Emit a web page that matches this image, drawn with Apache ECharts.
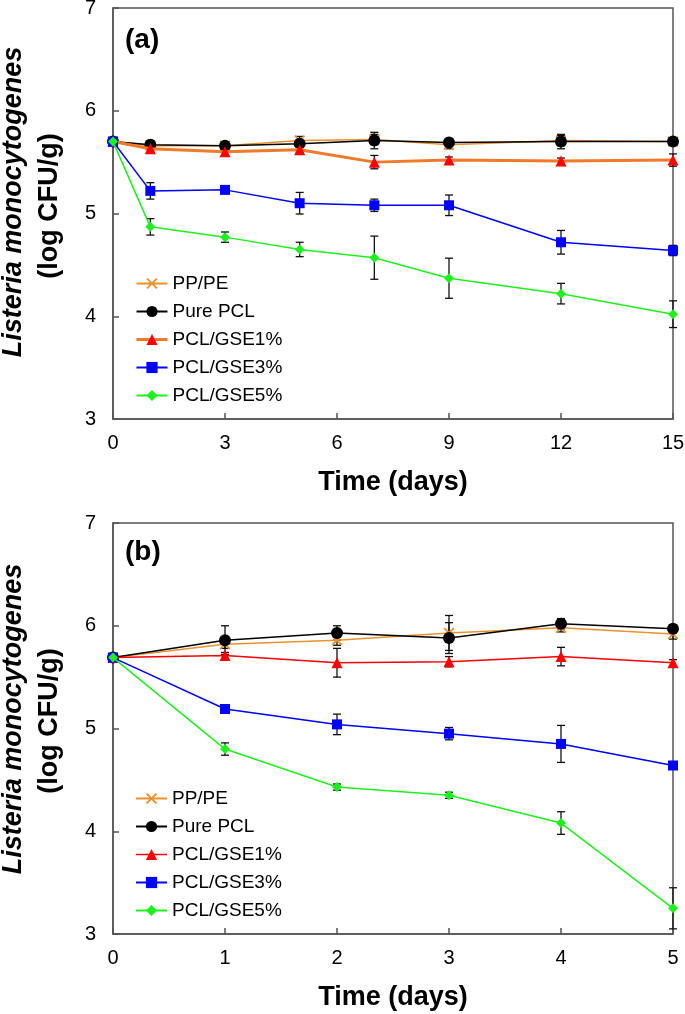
<!DOCTYPE html>
<html>
<head>
<meta charset="utf-8">
<script src="https://cdn.jsdelivr.net/npm/echarts@6/dist/echarts.min.js"></script>
<style>html,body{margin:0;padding:0;background:#fff;}#c{width:685px;height:1014px;}</style>
</head>
<body>
<div id="c"></div>
<script>
// ---------- data ----------
const seriesNames = ['PP/PE', 'Pure PCL', 'PCL/GSE1%', 'PCL/GSE3%', 'PCL/GSE5%'];

const daysA = [0, 1, 3, 5, 7, 9, 12, 15];
const ppA    = [5.70, 5.66, 5.66, 5.71, 5.72, 5.67, 5.71, 5.70];
const pclA   = [5.70, 5.67, 5.66, 5.68, 5.71, 5.69, 5.70, 5.70];
const gse1A  = [5.70, 5.63, 5.60, 5.62, 5.50, 5.52, 5.51, 5.52];
const gse3A  = [5.70, 5.22, 5.23, 5.10, 5.08, 5.08, 4.72, 4.64];
const gse5A  = [5.70, 4.87, 4.77, 4.65, 4.57, 4.37, 4.22, 4.02];
const ppAErr   = [0, 0.03, 0.03, 0.04, 0.05, 0.04, 0.05, 0.03];
const pclAErr  = [0, 0.04, 0.03, 0.03, 0.08, 0.04, 0.07, 0.03];
const gse1AErr = [0, 0.03, 0.03, 0.03, 0.065, 0.03, 0.03, 0.06];
const gse3AErr = [0, 0.08, 0.02, 0.105, 0.06, 0.10, 0.115, 0.05];
const gse5AErr = [0, 0.08, 0.05, 0.07, 0.21, 0.195, 0.10, 0.13];

const daysB = [0, 1, 2, 3, 4, 5];
const ppB    = [5.69, 5.82, 5.86, 5.93, 5.98, 5.92];
const pclB   = [5.69, 5.86, 5.93, 5.88, 6.02, 5.97];
const gse1B  = [5.69, 5.71, 5.64, 5.65, 5.70, 5.64];
const gse3B  = [5.69, 5.19, 5.04, 4.95, 4.85, 4.64];
const gse5B  = [5.69, 4.80, 4.43, 4.35, 4.08, 3.25];
const ppBErr   = [0, 0.04, 0.05, 0.17, 0.04, 0.05];
const pclBErr  = [0, 0.14, 0.07, 0.15, 0.05, 0.04];
const gse1BErr = [0, 0.03, 0.14, 0.05, 0.09, 0.03];
const gse3BErr = [0, 0.03, 0.10, 0.06, 0.18, 0.03];
const gse5BErr = [0, 0.06, 0.03, 0.03, 0.11, 0.20];

const yTicks = [3, 4, 5, 6, 7];
const xTicksA = [0, 3, 6, 9, 12, 15];
const xTicksB = [0, 1, 2, 3, 4, 5];

// ---------- styles ----------
const FONT = '"Liberation Sans", Arial, sans-serif';
const C_ORANGE = '#E8912F';
const C_ORANGE2 = '#F07A2A';
const C_RED = '#FF0000';
const C_BLUE = '#0000FF';
const C_GREEN = '#1EF01E';
const CROSS = 'path://M0,1.2L1.2,0L5,3.8L8.8,0L10,1.2L6.2,5L10,8.8L8.8,10L5,6.2L1.2,10L0,8.8L3.8,5Z';

function pairs(xs, ys) { return xs.map((x, i) => [x, ys[i]]); }
function errPairs(xs, ys, es) { return xs.map((x, i) => [x, ys[i], es[i]]); }

function renderErr(params, api) {
  const x = api.value(0), y = api.value(1), e = api.value(2);
  if (!e) return null;
  const t = api.coord([x, y + e]), b = api.coord([x, y - e]);
  const w = 4;
  const st = { stroke: '#111', lineWidth: 1.3 };
  return { type: 'group', children: [
    { type: 'line', shape: { x1: t[0], y1: t[1], x2: b[0], y2: b[1] }, style: st },
    { type: 'line', shape: { x1: t[0] - w, y1: t[1], x2: t[0] + w, y2: t[1] }, style: st },
    { type: 'line', shape: { x1: b[0] - w, y1: b[1], x2: b[0] + w, y2: b[1] }, style: st }
  ]};
}

function lineSeries(name, idx, xs, ys, color, symbol, size, lineColor, lw, z) {
  return {
    type: 'line', name: name, xAxisIndex: idx, yAxisIndex: idx,
    data: pairs(xs, ys), symbol: symbol, symbolSize: size,
    showAllSymbol: true, animation: false, z: z,
    lineStyle: { color: lineColor || color, width: lw || 1.5 },
    itemStyle: { color: color, borderWidth: 0 },
    emphasis: { disabled: true }
  };
}

function errSeries(idx, xs, list) {
  let data = [];
  list.forEach(([ys, es]) => { data = data.concat(errPairs(xs, ys, es)); });
  return {
    type: 'custom', xAxisIndex: idx, yAxisIndex: idx, renderItem: renderErr,
    data: data, z: 1, animation: false, silent: true,
    encode: { x: 0, y: 1 }
  };
}

const grids = [
  { left: 113, right: 12, top: 8, height: 411 },
  { left: 113, right: 12, top: 523, height: 411 }
];

function xAxisCfg(idx, max, interval) {
  return {
    type: 'value', gridIndex: idx, min: 0, max: max, interval: interval,
    name: 'Time (days)', nameLocation: 'middle', nameGap: 50,
    nameTextStyle: { fontFamily: FONT, fontSize: 27, fontWeight: 'bold', color: '#000' },
    axisLine: { show: true, lineStyle: { color: '#555', width: 1.5 } },
    axisTick: { show: true, inside: true, length: 6, lineStyle: { color: '#555', width: 1.5 } },
    axisLabel: { fontFamily: FONT, fontSize: 20, color: '#000', margin: 14, showMinLabel: true, showMaxLabel: true, hideOverlap: false },
    splitLine: { show: false }
  };
}
function yAxisCfg(idx) {
  return {
    type: 'value', gridIndex: idx, min: 3, max: 7, interval: 1,
    axisLine: { show: true, lineStyle: { color: '#555', width: 1.5 } },
    axisTick: { show: true, inside: true, length: 6, lineStyle: { color: '#555', width: 1.5 } },
    axisLabel: { fontFamily: FONT, fontSize: 20, color: '#000', margin: 17 },
    splitLine: { show: false }
  };
}

function legendCfg(top, gse1Line) {
  return {
    orient: 'vertical', left: 130, top: top, itemWidth: 31, itemHeight: 14, itemGap: 9,
    textStyle: { fontFamily: FONT, fontSize: 19, color: '#000' },
    selectedMode: false,
    data: [
      { name: 'PP/PE' },
      { name: 'Pure PCL' },
      { name: 'PCL/GSE1%', lineStyle: { color: gse1Line, width: gse1Line === C_RED ? 1.5 : 3 }, itemStyle: { color: C_RED } },
      { name: 'PCL/GSE3%' },
      { name: 'PCL/GSE5%' }
    ]
  };
}

const series = [
  errSeries(0, daysA, [[ppA, ppAErr], [pclA, pclAErr], [gse1A, gse1AErr], [gse3A, gse3AErr], [gse5A, gse5AErr]]),
  lineSeries('PP/PE', 0, daysA, ppA, C_ORANGE, CROSS, 11, C_ORANGE, 1.5, 2),
  lineSeries('Pure PCL', 0, daysA, pclA, '#000', 'circle', 12, '#000', 1.5, 3),
  lineSeries('PCL/GSE1%', 0, daysA, gse1A, C_RED, 'triangle', 11, C_ORANGE2, 3, 4),
  lineSeries('PCL/GSE3%', 0, daysA, gse3A, C_BLUE, 'rect', 10, C_BLUE, 1.5, 5),
  lineSeries('PCL/GSE5%', 0, daysA, gse5A, C_GREEN, 'diamond', 10, C_GREEN, 1.5, 6),

  errSeries(1, daysB, [[ppB, ppBErr], [pclB, pclBErr], [gse1B, gse1BErr], [gse3B, gse3BErr], [gse5B, gse5BErr]]),
  lineSeries('PP/PE', 1, daysB, ppB, C_ORANGE, CROSS, 11, C_ORANGE, 1.5, 2),
  lineSeries('Pure PCL', 1, daysB, pclB, '#000', 'circle', 12, '#000', 1.5, 3),
  lineSeries('PCL/GSE1%', 1, daysB, gse1B, C_RED, 'triangle', 11, C_RED, 1.5, 4),
  lineSeries('PCL/GSE3%', 1, daysB, gse3B, C_BLUE, 'rect', 10, C_BLUE, 1.5, 5),
  lineSeries('PCL/GSE5%', 1, daysB, gse5B, C_GREEN, 'diamond', 10, C_GREEN, 1.5, 6)
];

function yTitle(cx, cy, text, italic) {
  return {
    type: 'text', x: cx, y: cy, rotation: Math.PI / 2, silent: true,
    style: {
      text: text, fontFamily: FONT, fontSize: 27, fontWeight: 'bold', fontStyle: italic ? 'italic' : 'normal',
      fill: '#000', textAlign: 'center', textVerticalAlign: 'middle', align: 'center', verticalAlign: 'middle'
    }
  };
}
function panelLabel(x, y, text) {
  return {
    type: 'text', left: x, top: y, silent: true,
    style: { text: text, fontFamily: FONT, fontSize: 28, fontWeight: 'bold', fill: '#000' }
  };
}

const chart = echarts.init(document.getElementById('c'), null, { renderer: 'canvas' });
chart.setOption({
  animation: false,
  backgroundColor: '#fff',
  grid: grids.map(g => Object.assign({ show: true, borderColor: '#555', borderWidth: 1.5, backgroundColor: 'transparent', containLabel: false, outerBoundsMode: 'none' }, g)),
  xAxis: [xAxisCfg(0, xTicksA[xTicksA.length - 1], xTicksA[1] - xTicksA[0]), xAxisCfg(1, xTicksB[xTicksB.length - 1], xTicksB[1] - xTicksB[0])],
  yAxis: [yAxisCfg(0), yAxisCfg(1)],
  legend: [legendCfg(269, C_ORANGE2), legendCfg(784, C_RED)],
  series: series,
  graphic: [
    yTitle(14, 202, 'Listeria monocytogenes', true),
    yTitle(50, 206, '(log CFU/g)', false),
    yTitle(14, 719, 'Listeria monocytogenes', true),
    yTitle(50, 721, '(log CFU/g)', false),
    panelLabel(125, 26, '(a)'),
    panelLabel(125, 538, '(b)')
  ]
});
</script>
</body>
</html>
